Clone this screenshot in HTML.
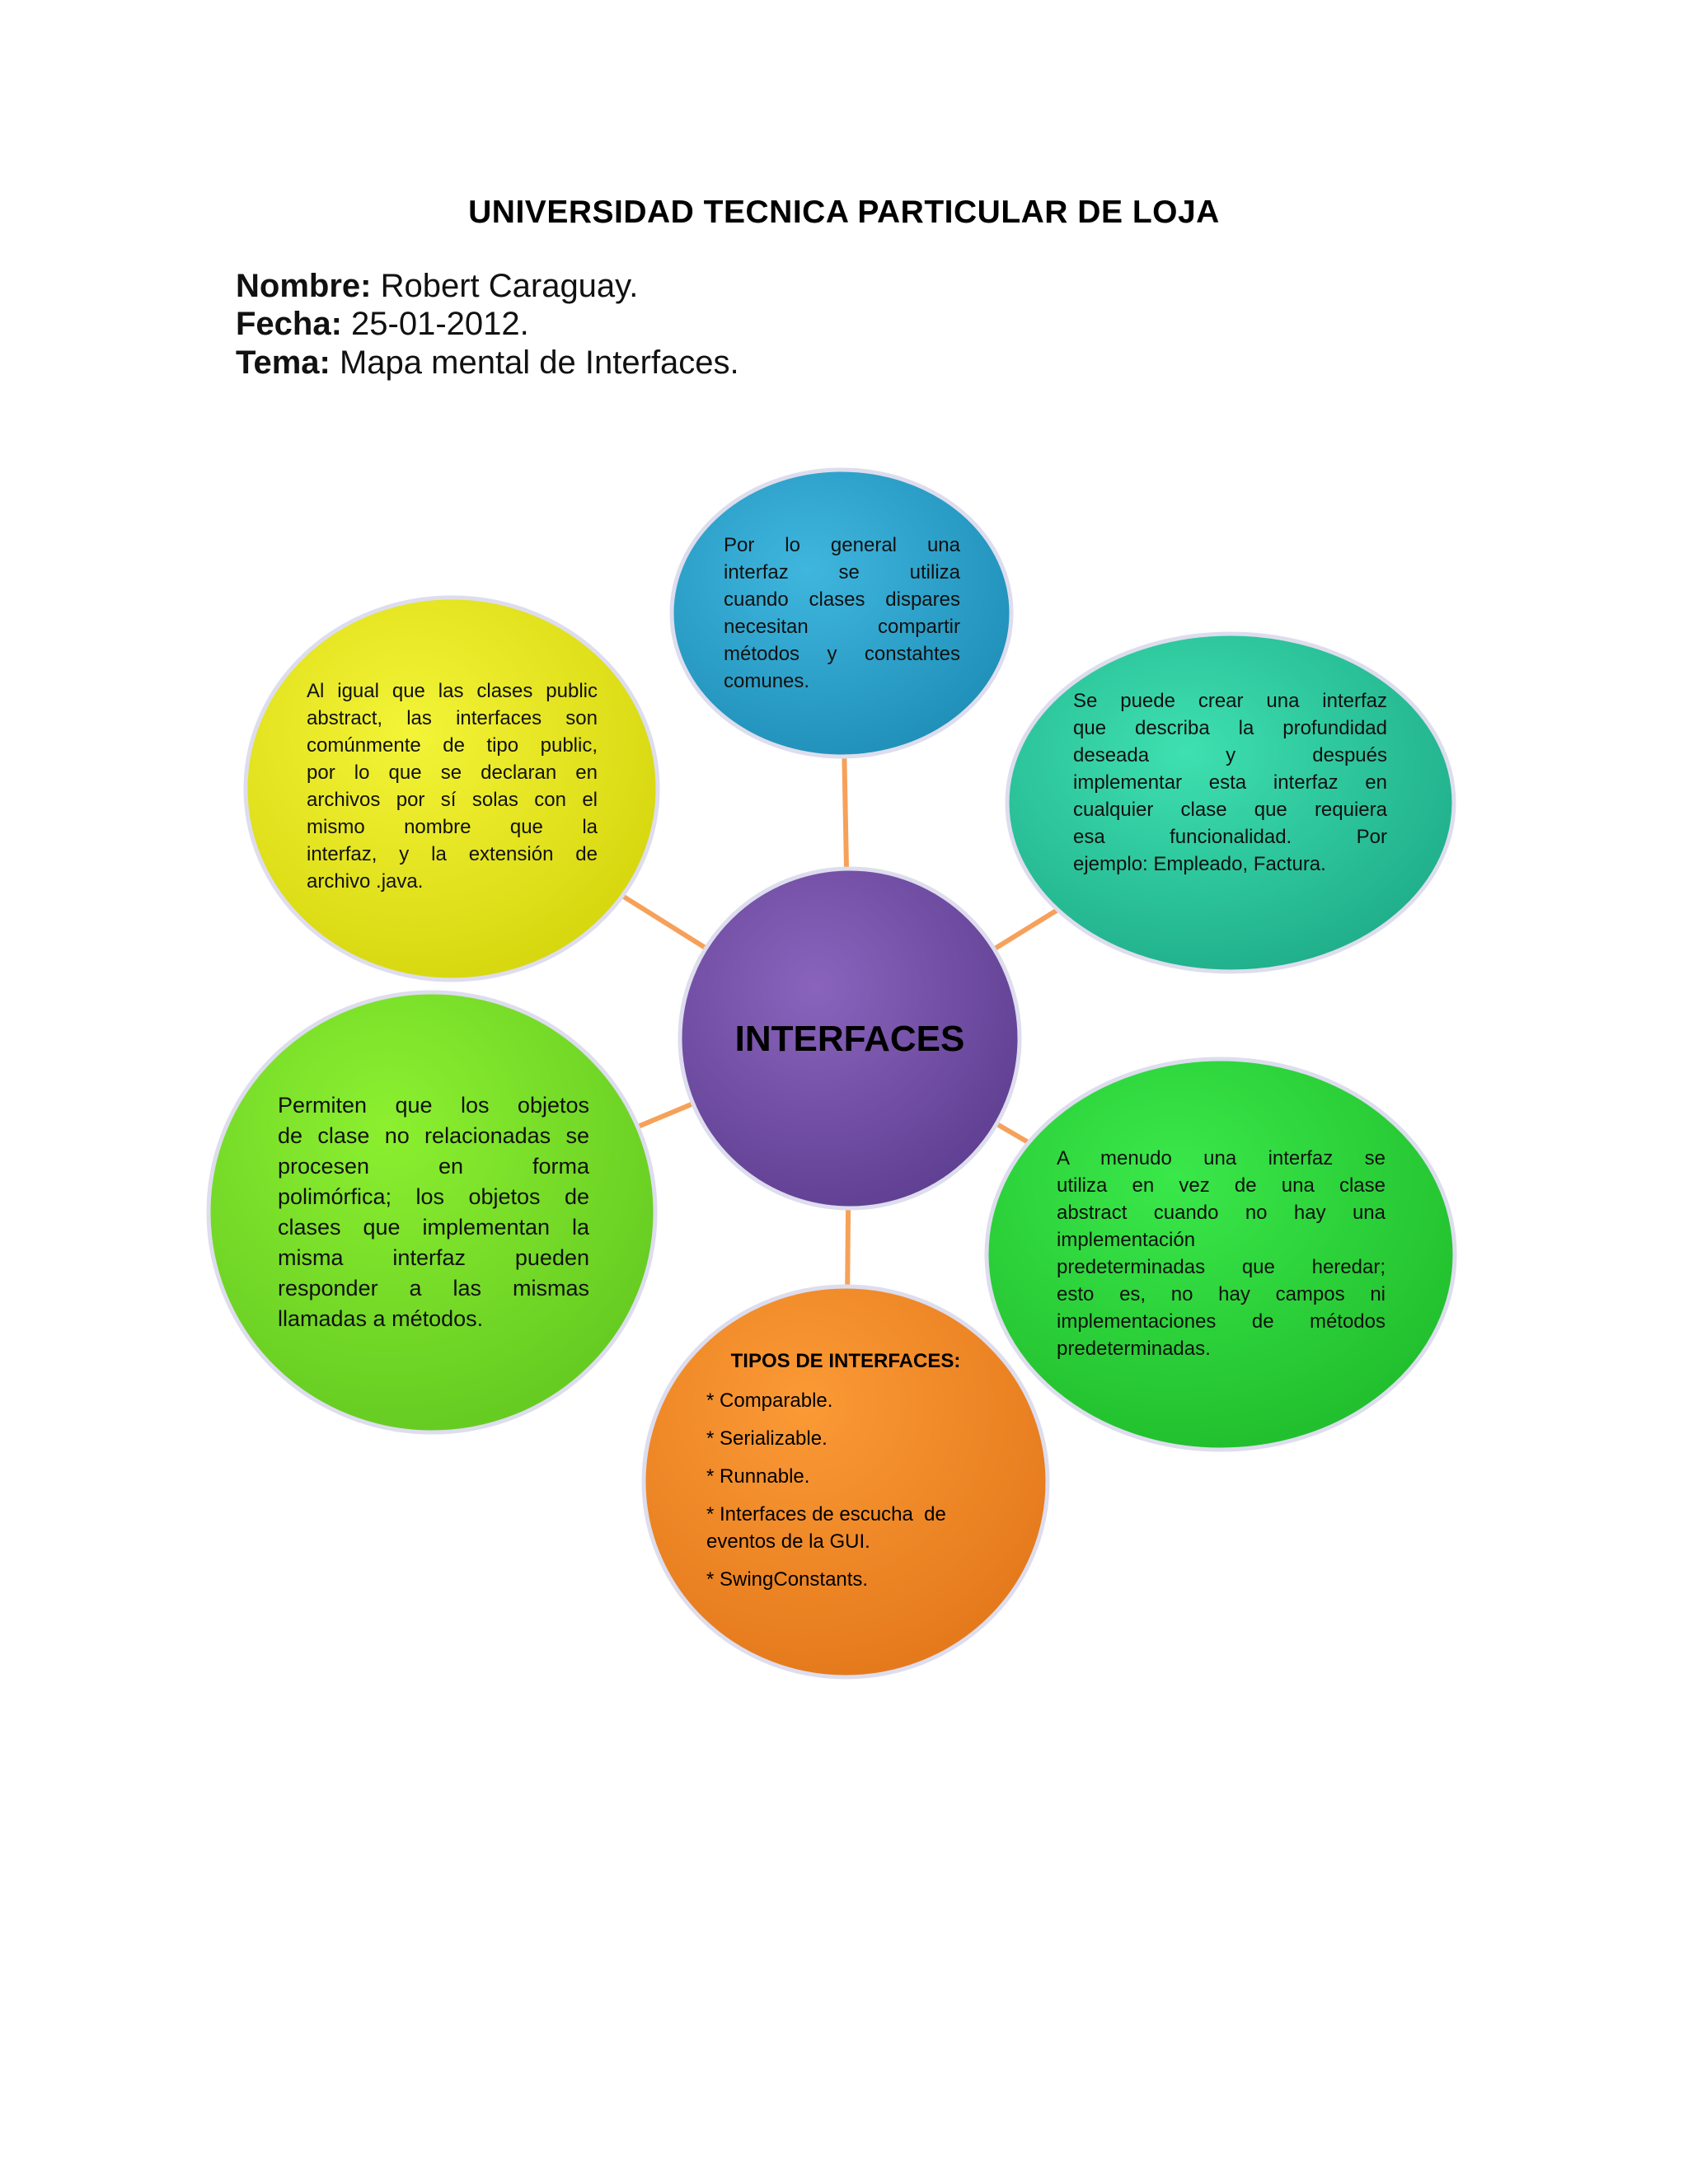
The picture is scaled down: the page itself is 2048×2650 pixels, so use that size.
<!DOCTYPE html>
<html><head><meta charset="utf-8"><style>
body{margin:0;width:2048px;height:2650px;background:#fff;position:relative;font-family:"Liberation Sans",sans-serif;overflow:hidden}
.a{position:absolute}
.t{position:absolute;font-size:24px;line-height:33px;color:#111}
.t div{text-align:justify;text-align-last:justify;white-space:nowrap}
.t div.e{text-align-last:left}
.h{font-size:40px;color:#111;left:286px}
</style></head><body>
<div class="a" style="top:236px;width:2048px;text-align:center;font-size:39px;font-weight:bold;letter-spacing:0.5px">UNIVERSIDAD TECNICA PARTICULAR DE LOJA</div>
<div class="a h" style="top:325px"><b>Nombre:</b> Robert Caraguay.</div>
<div class="a h" style="top:371px"><b>Fecha:</b> 25-01-2012.</div>
<div class="a h" style="top:418px"><b>Tema:</b> Mapa mental de Interfaces.</div>
<svg class="a" style="left:0;top:0" width="2048" height="2650">
<defs>
<radialGradient id="gb" cx="40%" cy="35%" r="70%"><stop offset="0" stop-color="#3fb6de"/><stop offset="1" stop-color="#1f8fb8"/></radialGradient>
<radialGradient id="gt" cx="40%" cy="35%" r="70%"><stop offset="0" stop-color="#3ee0b0"/><stop offset="1" stop-color="#1fae8a"/></radialGradient>
<radialGradient id="gy" cx="40%" cy="35%" r="70%"><stop offset="0" stop-color="#f4f438"/><stop offset="1" stop-color="#d6d60e"/></radialGradient>
<radialGradient id="gp" cx="40%" cy="35%" r="70%"><stop offset="0" stop-color="#8a64bc"/><stop offset="1" stop-color="#5f3f92"/></radialGradient>
<radialGradient id="gl" cx="40%" cy="30%" r="70%"><stop offset="0" stop-color="#8cf030"/><stop offset="1" stop-color="#66cc22"/></radialGradient>
<radialGradient id="gg" cx="40%" cy="30%" r="70%"><stop offset="0" stop-color="#3ae84a"/><stop offset="1" stop-color="#22c02e"/></radialGradient>
<radialGradient id="go" cx="40%" cy="30%" r="70%"><stop offset="0" stop-color="#fb9a36"/><stop offset="1" stop-color="#e57a1c"/></radialGradient>
</defs>
<g stroke="#f6a15a" stroke-width="6">
<line x1="1031" y1="1260" x2="1021" y2="744"/>
<line x1="1031" y1="1260" x2="1493" y2="974"/>
<line x1="1031" y1="1260" x2="548" y2="957"/>
<line x1="1031" y1="1260" x2="524" y2="1471"/>
<line x1="1031" y1="1260" x2="1481" y2="1522"/>
<line x1="1031" y1="1260" x2="1026" y2="1798"/>
</g>
<g stroke="#dde" stroke-width="5">
<ellipse cx="1021" cy="744" rx="206" ry="174" fill="url(#gb)"/>
<ellipse cx="1493" cy="974" rx="271" ry="205" fill="url(#gt)"/>
<ellipse cx="548" cy="957" rx="250" ry="232" fill="url(#gy)"/>
<ellipse cx="524" cy="1471" rx="271" ry="267" fill="url(#gl)"/>
<ellipse cx="1481" cy="1522" rx="284" ry="237" fill="url(#gg)"/>
<ellipse cx="1026" cy="1798" rx="245" ry="237" fill="url(#go)"/>
<ellipse cx="1031" cy="1260" rx="206" ry="206" fill="url(#gp)"/>
</g>
</svg>
<div class="a" style="left:831px;top:1236px;width:400px;text-align:center;font-size:44px;font-weight:bold">INTERFACES</div>
<div class="t" style="left:878px;top:645px;width:287px">
<div>Por lo general una</div><div>interfaz se utiliza</div><div>cuando clases dispares</div><div>necesitan compartir</div><div>métodos y constahtes</div><div class="e">comunes.</div></div>
<div class="t" style="left:372px;top:822px;width:353px">
<div>Al igual que las clases public</div><div>abstract, las interfaces son</div><div>comúnmente de tipo public,</div><div>por lo que se declaran en</div><div>archivos por sí solas con el</div><div>mismo nombre que la</div><div>interfaz, y la extensión de</div><div class="e">archivo .java.</div></div>
<div class="t" style="left:1302px;top:834px;width:381px">
<div>Se puede crear una interfaz</div><div>que describa la profundidad</div><div>deseada y después</div><div>implementar esta interfaz en</div><div>cualquier clase que requiera</div><div>esa funcionalidad. Por</div><div class="e">ejemplo: Empleado, Factura.</div></div>
<div class="t" style="left:337px;top:1323px;width:378px;font-size:27px;line-height:37px">
<div>Permiten que los objetos</div><div>de clase no relacionadas se</div><div>procesen en forma</div><div>polimórfica; los objetos de</div><div>clases que implementan la</div><div>misma interfaz pueden</div><div>responder a las mismas</div><div class="e">llamadas a métodos.</div></div>
<div class="t" style="left:1282px;top:1389px;width:399px">
<div>A menudo una interfaz se</div><div>utiliza en vez de una clase</div><div>abstract cuando no hay una</div><div class="e">implementación</div><div>predeterminadas que heredar;</div><div>esto es, no hay campos ni</div><div>implementaciones de métodos</div><div class="e">predeterminadas.</div></div>
<div class="a" style="left:826px;top:1638px;width:400px;text-align:center;font-size:24px;font-weight:bold">TIPOS DE INTERFACES:</div>
<div class="a" style="left:857px;top:1683px;font-size:24px;line-height:33px">* Comparable.</div>
<div class="a" style="left:857px;top:1729px;font-size:24px;line-height:33px">* Serializable.</div>
<div class="a" style="left:857px;top:1775px;font-size:24px;line-height:33px">* Runnable.</div>
<div class="a" style="left:857px;top:1821px;font-size:24px;line-height:33px">* Interfaces de escucha &nbsp;de<br>eventos de la GUI.</div>
<div class="a" style="left:857px;top:1900px;font-size:24px;line-height:33px">* SwingConstants.</div>
</body></html>
